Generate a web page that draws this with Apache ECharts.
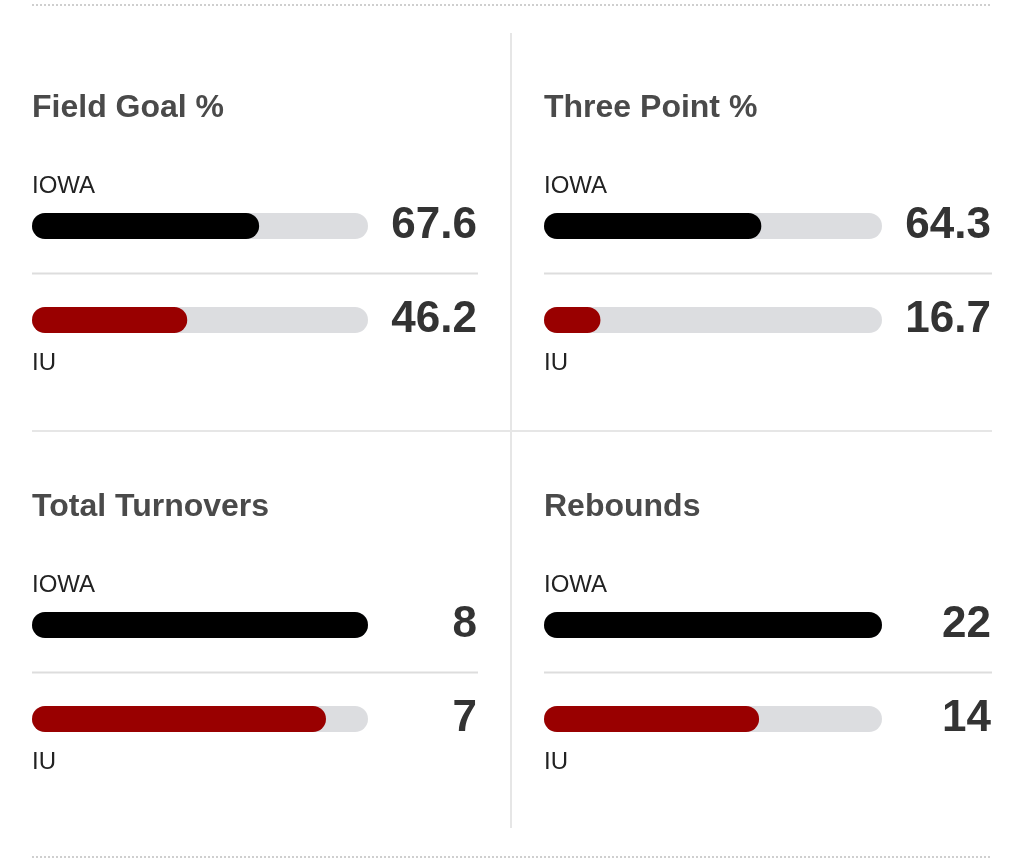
<!DOCTYPE html>
<html>
<head>
<meta charset="utf-8">
<script src="https://cdn.jsdelivr.net/npm/echarts@6/dist/echarts.min.js"></script>
<style>
html,body{margin:0;padding:0;background:#fff;}
#chart{width:1024px;height:861px;}
</style>
</head>
<body>
<div id="chart"></div>
<script>
// ---- data ----
const statNames = ['Field Goal %', 'Three Point %', 'Total Turnovers', 'Rebounds'];
const teams = ['IOWA', 'IU'];
const teamColors = ['#000000', '#990000'];
const iowaValues = [67.6, 64.3, 8, 22];
const iuValues = [46.2, 16.7, 7, 14];
const isPercent = [true, true, false, false];

// ---- layout ----
const FONT = '"Liberation Sans", Arial, Helvetica, sans-serif';
const panelX = [32, 544, 32, 544];
const panelDY = [0, 0, 399, 399];
const barWidths = [336, 338, 336, 338];
const valueRight = [477, 991, 477, 991];
const GRID_TOP = 179, GRID_H = 188;

const grids = [], xAxes = [], yAxes = [], series = [], titles = [], graphics = [];

statNames.forEach((name, i) => {
  const left = panelX[i], top = GRID_TOP + panelDY[i], w = barWidths[i];
  const vals = [iowaValues[i], iuValues[i]];
  const max = isPercent[i] ? 100 : Math.max(...vals);
  grids.push({ left: left, top: top, width: w, height: GRID_H });
  xAxes.push({ type: 'value', gridIndex: i, min: 0, max: max, show: false });
  yAxes.push({ type: 'category', gridIndex: i, data: teams, inverse: true, show: false });
  yAxes.push({
    type: 'category', gridIndex: i, position: 'right', inverse: true,
    data: vals.map(v => isPercent[i] ? v.toFixed(1) : String(v)),
    axisLine: { show: false }, axisTick: { show: false }, splitLine: { show: false },
    axisLabel: {
      show: true, align: 'right', margin: valueRight[i] - (left + w),
      fontFamily: FONT, fontSize: 44, fontWeight: 'bold', color: '#333333',
      padding: [6, 0, 0, 0]
    }
  });
  series.push({
    type: 'bar', xAxisIndex: i, yAxisIndex: i * 2,
    barWidth: 26,
    showBackground: true,
    backgroundStyle: { color: '#dcdde0', borderRadius: 13 },
    data: vals.map((v, k) => ({ value: v, itemStyle: { color: teamColors[k], borderRadius: 13 } })),
    silent: true, animation: false
  });
  titles.push({
    text: name, left: left, top: 106 + panelDY[i] - 14,
    textStyle: { fontFamily: FONT, fontSize: 32, fontWeight: 'bold', color: '#4a4a4a' },
    padding: 0
  });
  const band = GRID_H / 2;
  // team labels
  graphics.push({
    type: 'text', left: left, top: top + band / 2 - 42 - 10,
    style: { text: teams[0], font: '24px ' + FONT, fill: '#222222' }
  });
  graphics.push({
    type: 'text', left: left, top: top + band * 1.5 + 41 - 10,
    style: { text: teams[1], font: '24px ' + FONT, fill: '#222222' }
  });
  // separator between the two bars
  graphics.push({
    type: 'line', shape: { x1: left, y1: top + band + 0.5, x2: valueRight[i] + 1, y2: top + band + 0.5 },
    style: { stroke: '#dddddd', lineWidth: 2 }
  });
});

// frame lines
graphics.push({ type: 'line', shape: { x1: 32, y1: 5, x2: 992, y2: 5 }, style: { stroke: '#cfcfcf', lineWidth: 2, lineDash: [2, 2] } });
graphics.push({ type: 'line', shape: { x1: 32, y1: 857, x2: 992, y2: 857 }, style: { stroke: '#cfcfcf', lineWidth: 2, lineDash: [2, 2] } });
graphics.push({ type: 'line', shape: { x1: 511, y1: 33, x2: 511, y2: 828 }, style: { stroke: '#e6e6e6', lineWidth: 2 } });
graphics.push({ type: 'line', shape: { x1: 32, y1: 431, x2: 992, y2: 431 }, style: { stroke: '#e6e6e6', lineWidth: 2 } });

const chart = echarts.init(document.getElementById('chart'), null, { renderer: 'canvas' });
chart.setOption({
  backgroundColor: '#ffffff',
  animation: false,
  title: titles,
  grid: grids,
  xAxis: xAxes,
  yAxis: yAxes,
  series: series,
  graphic: graphics
});
</script>
</body>
</html>
